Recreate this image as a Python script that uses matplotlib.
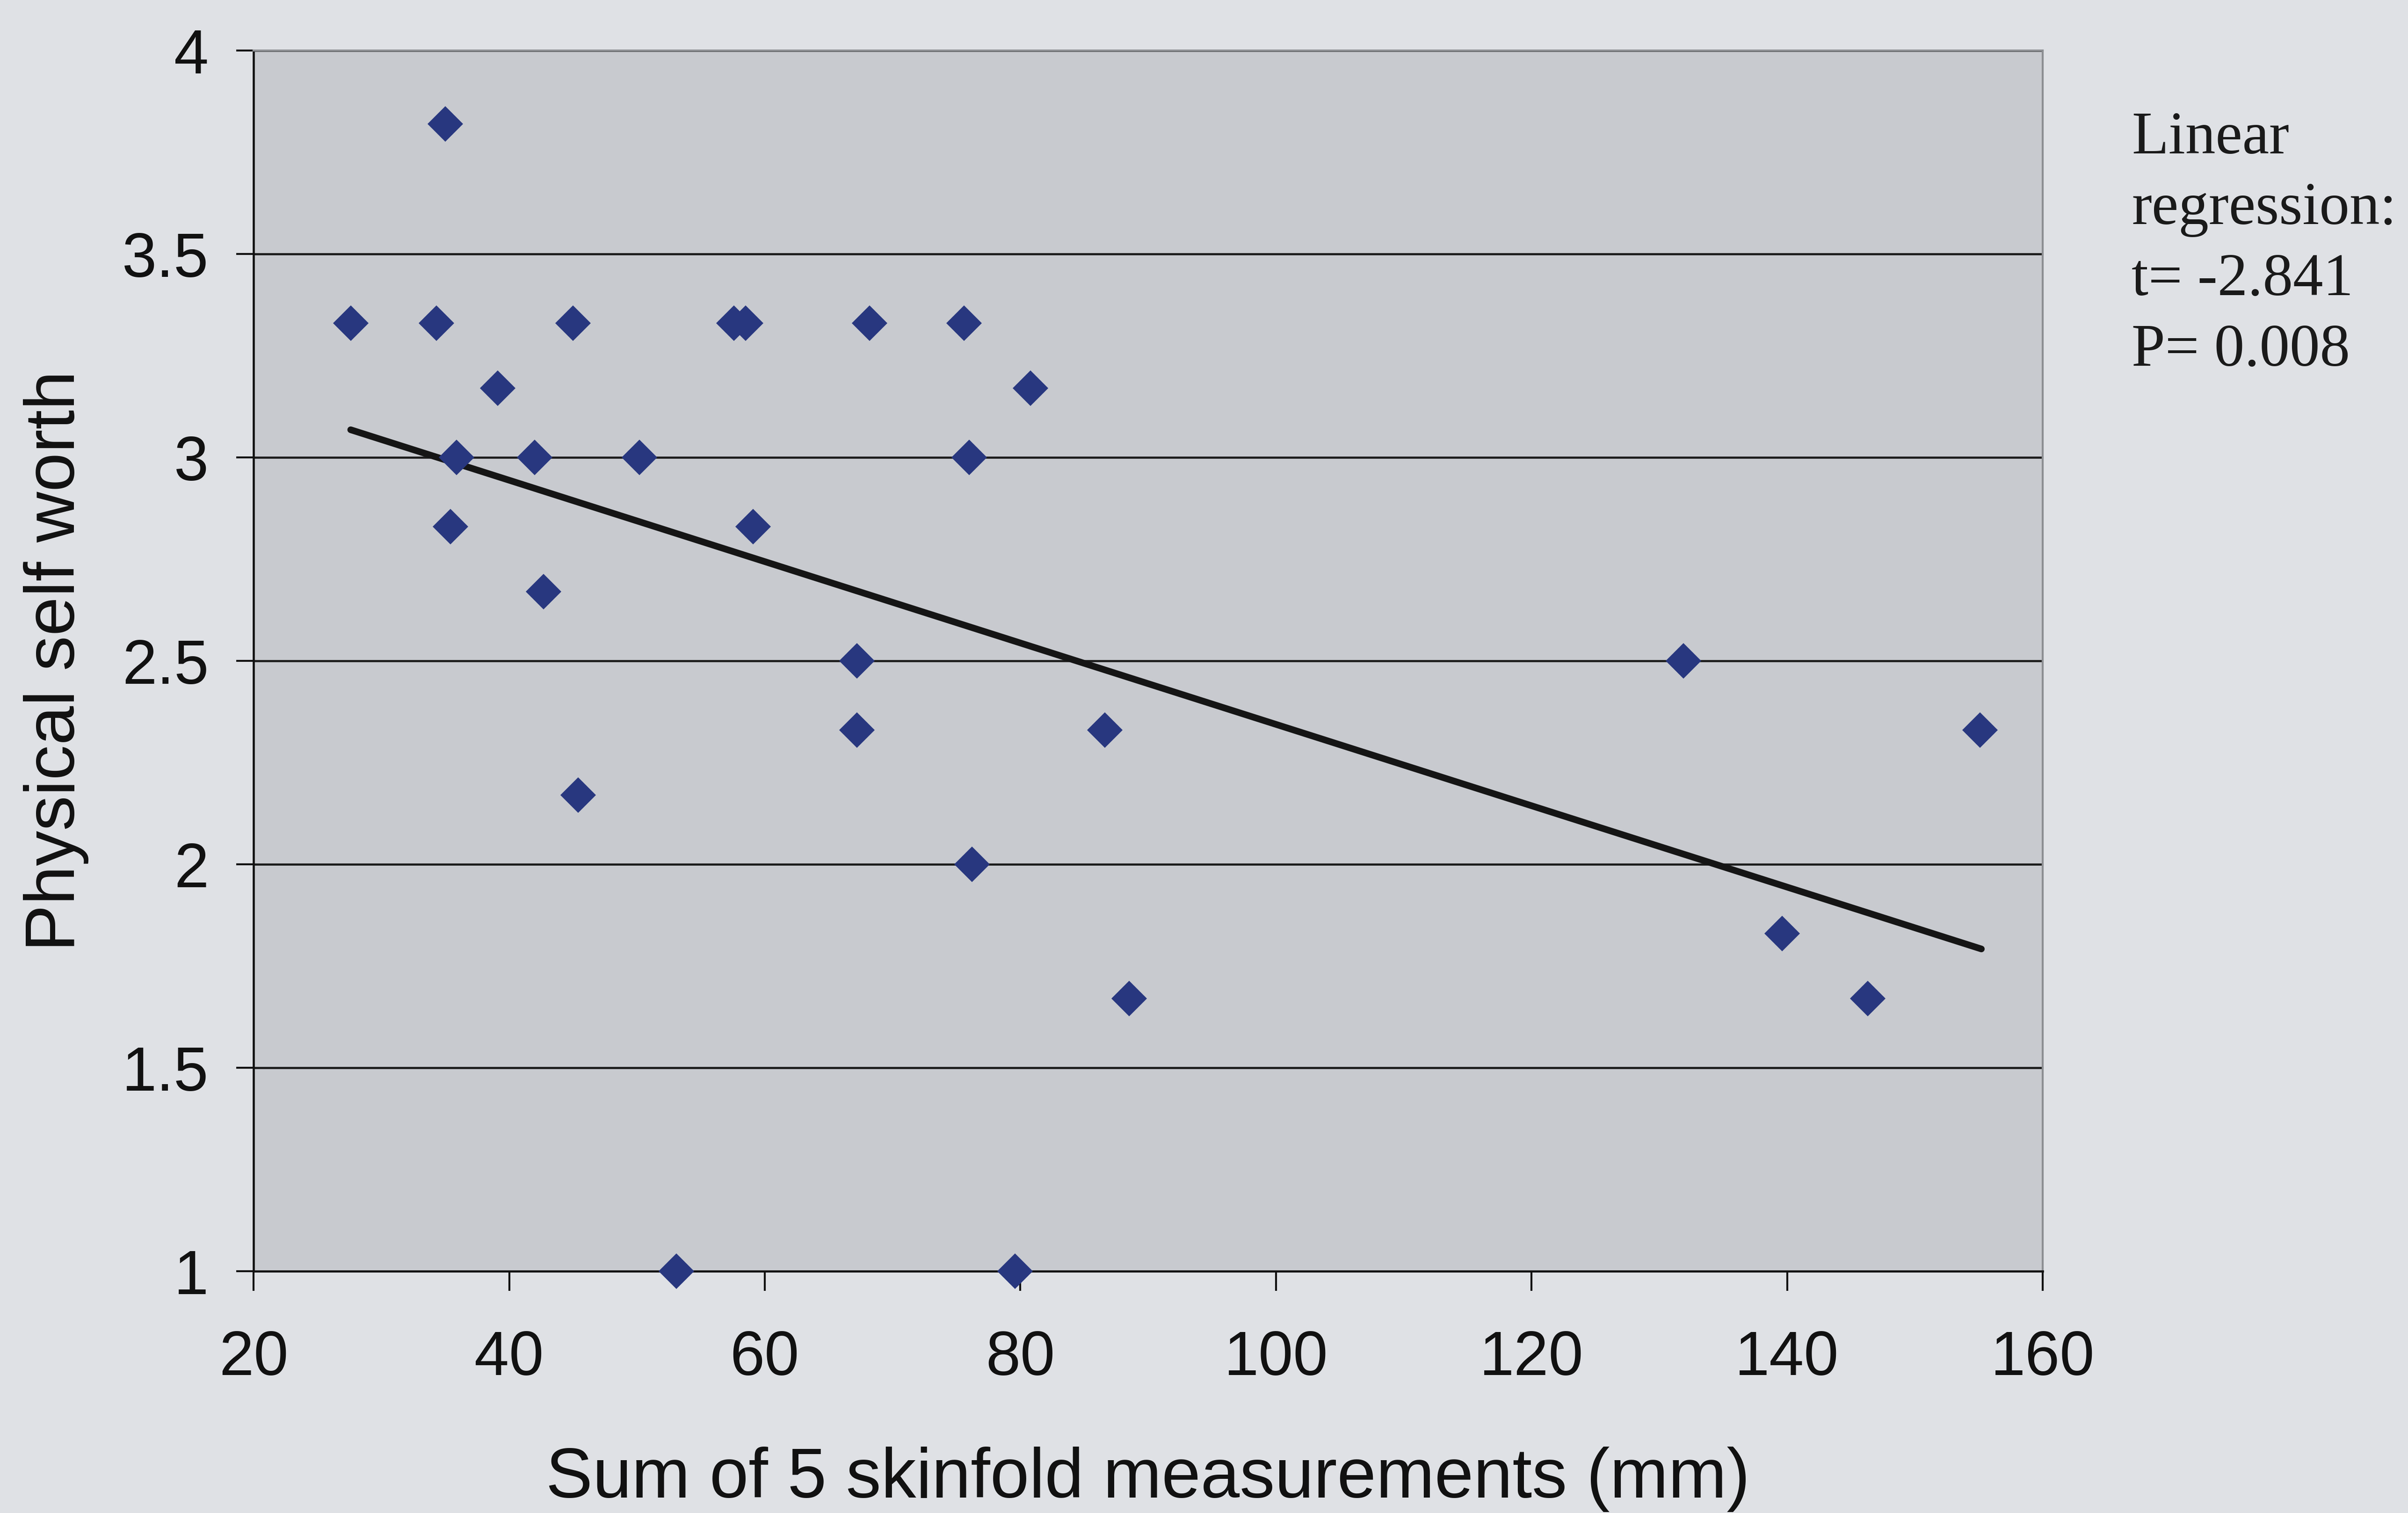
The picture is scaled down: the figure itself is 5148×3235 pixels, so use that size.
import numpy as np
import matplotlib.pyplot as plt

# values
skinfold_mm = [27.6, 35.0, 34.3, 35.9, 35.4, 39.1, 42.0, 42.7, 45.0, 45.4,
               50.2, 53.1, 57.6, 58.5, 59.1, 67.2, 67.2, 68.2, 75.6, 76.0,
               76.2, 80.8, 79.6, 86.6, 88.5, 131.9, 139.6, 146.3, 155.1]
self_worth = [3.33, 3.82, 3.33, 3.0, 2.83, 3.17, 3.0, 2.67, 3.33, 2.17,
              3.0, 1.0, 3.33, 3.33, 2.83, 2.5, 2.33, 3.33, 3.33, 3.0,
              2.0, 3.17, 1.0, 2.33, 1.67, 2.5, 1.83, 1.67, 2.33]

fit_intercept = 3.344
fit_slope = -0.0100
fit_range = [27.6, 155.2]

x_ticks = [20, 40, 60, 80, 100, 120, 140, 160]
y_ticks = [1, 1.5, 2, 2.5, 3, 3.5, 4]
y_tick_labels = ["1", "1.5", "2", "2.5", "3", "3.5", "4"]

fig_bg = "#dfe1e5"
plot_bg = "#c8cacf"
marker_col = "#28377f"

fig = plt.figure(figsize=(5148 / 300, 3235 / 300), dpi=300, facecolor=fig_bg)
ax = fig.add_axes([0.1053, 0.1598, 0.743, 0.8068])
ax.set_facecolor(plot_bg)

for yv in y_ticks[1:]:
    ax.axhline(yv, color="#1a1a1a", linewidth=1.1, zorder=1)

fx = np.array(fit_range)
ax.plot(fx, fit_intercept + fit_slope * fx, color="#151515", linewidth=3.4,
        solid_capstyle="round", zorder=2)
ax.plot(skinfold_mm, self_worth, linestyle="none", marker="D", markersize=13,
        color=marker_col, markeredgewidth=0, zorder=3, clip_on=False)

ax.set_xlim(20, 160)
ax.set_ylim(1, 4)
ax.set_xticks(x_ticks)
ax.set_yticks(y_ticks)
ax.set_yticklabels(y_tick_labels)

for side in ["left", "bottom"]:
    ax.spines[side].set_color("#111111")
    ax.spines[side].set_linewidth(1.1)
for side in ["top", "right"]:
    ax.spines[side].set_color("#8c8e92")
    ax.spines[side].set_linewidth(1.0)

ax.tick_params(axis="x", direction="out", length=10, width=1.0, pad=20,
               labelsize=32, colors="#111111")
ax.tick_params(axis="y", direction="out", length=9, width=1.0, pad=14,
               labelsize=32, colors="#111111")
for lab in ax.get_xticklabels() + ax.get_yticklabels():
    lab.set_family("Liberation Sans")

ax.set_xlabel("Sum of 5 skinfold measurements (mm)", fontsize=36,
              family="Liberation Sans", color="#111111", labelpad=30)
ax.set_ylabel("Physical self worth", fontsize=36, family="Liberation Sans",
              color="#111111", labelpad=17)

fig.text(4557 / 5148, 1 - 238 / 3235, "Linear\nregression:\nt= -2.841\nP= 0.008",
         family="Liberation Serif", fontsize=31, color="#1a1a1a",
         ha="left", va="top", linespacing=1.37)

fig.savefig("out.png", dpi=300, facecolor=fig_bg)
